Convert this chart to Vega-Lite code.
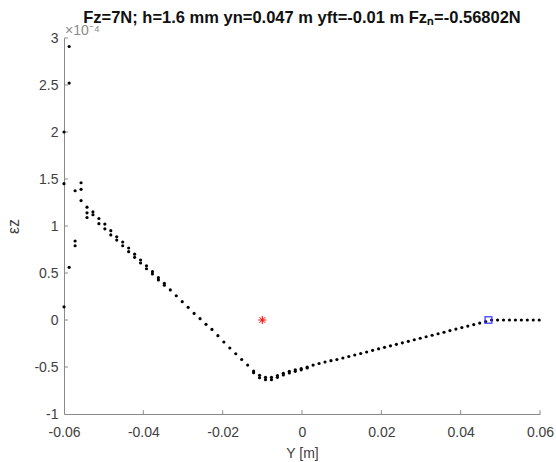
{
  "$schema": "https://vega.github.io/schema/vega-lite/v6.json",
  "width": 476,
  "height": 376,
  "autosize": {"type": "none"},
  "padding": {"left": 64, "top": 38, "right": 16, "bottom": 48},
  "background": "white",
  "config": {
    "view": {"stroke": null},
    "font": "Liberation Sans",
    "axis": {
      "domainColor": "#8a8a8a",
      "tickColor": "#8a8a8a",
      "grid": false,
      "ticks": false,
      "labelFont": "Liberation Sans",
      "labelFontSize": 14,
      "labelColor": "#404040",
      "titleFont": "Liberation Sans",
      "titleFontSize": 14,
      "titleFontWeight": "normal",
      "titleColor": "#404040",
      "domainWidth": 1
    }
  },
  "title": {
    "text": "Fz=7N; h=1.6 mm yn=0.047 m yft=-0.01 m Fzₙ=-0.56802N",
    "font": "Liberation Sans",
    "fontSize": 16.5,
    "fontWeight": "bold",
    "color": "#111111",
    "anchor": "middle",
    "baseline": "alphabetic",
    "offset": 0,
    "dy": 15
  },
  "datasets": {
    "pts": [
      {"y_m": -0.06, "eps": 2.0}, {"y_m": -0.06, "eps": 1.45}, {"y_m": -0.06, "eps": 0.14},
      {"y_m": -0.0587, "eps": 2.91}, {"y_m": -0.0587, "eps": 2.52}, {"y_m": -0.0587, "eps": 0.56},
      {"y_m": -0.0572, "eps": 1.375}, {"y_m": -0.0572, "eps": 0.84}, {"y_m": -0.0572, "eps": 0.79},
      {"y_m": -0.0557, "eps": 1.46}, {"y_m": -0.0557, "eps": 1.39}, {"y_m": -0.0557, "eps": 1.27},
      {"y_m": -0.0542, "eps": 1.2}, {"y_m": -0.0542, "eps": 1.14}, {"y_m": -0.0542, "eps": 1.09},
      {"y_m": -0.0527, "eps": 1.15}, {"y_m": -0.0527, "eps": 1.12},
      {"y_m": -0.0512, "eps": 1.08}, {"y_m": -0.0512, "eps": 1.025},
      {"y_m": -0.0497, "eps": 1.02}, {"y_m": -0.0497, "eps": 0.97},
      {"y_m": -0.0482, "eps": 0.95}, {"y_m": -0.0482, "eps": 0.905},
      {"y_m": -0.0467, "eps": 0.886}, {"y_m": -0.0467, "eps": 0.85},
      {"y_m": -0.0452, "eps": 0.83}, {"y_m": -0.0452, "eps": 0.79},
      {"y_m": -0.0437, "eps": 0.766}, {"y_m": -0.0437, "eps": 0.727},
      {"y_m": -0.0422, "eps": 0.7}, {"y_m": -0.0422, "eps": 0.667},
      {"y_m": -0.0407, "eps": 0.638}, {"y_m": -0.0407, "eps": 0.606},
      {"y_m": -0.0392, "eps": 0.577}, {"y_m": -0.0392, "eps": 0.545},
      {"y_m": -0.0377, "eps": 0.514}, {"y_m": -0.0377, "eps": 0.49},
      {"y_m": -0.0362, "eps": 0.45}, {"y_m": -0.0362, "eps": 0.426},
      {"y_m": -0.0347, "eps": 0.39}, {"y_m": -0.0347, "eps": 0.37},
      {"y_m": -0.0332, "eps": 0.32},
      {"y_m": -0.0317, "eps": 0.258},
      {"y_m": -0.0302, "eps": 0.195},
      {"y_m": -0.0287, "eps": 0.135},
      {"y_m": -0.0272, "eps": 0.07},
      {"y_m": -0.0257, "eps": 0.014},
      {"y_m": -0.0242, "eps": -0.046},
      {"y_m": -0.0227, "eps": -0.1},
      {"y_m": -0.0212, "eps": -0.167},
      {"y_m": -0.0197, "eps": -0.234},
      {"y_m": -0.0182, "eps": -0.298},
      {"y_m": -0.0167, "eps": -0.359},
      {"y_m": -0.0152, "eps": -0.42},
      {"y_m": -0.0137, "eps": -0.48},
      {"y_m": -0.0122, "eps": -0.543}, {"y_m": -0.0122, "eps": -0.56},
      {"y_m": -0.0107, "eps": -0.589}, {"y_m": -0.0107, "eps": -0.614},
      {"y_m": -0.0092, "eps": -0.61}, {"y_m": -0.0092, "eps": -0.635},
      {"y_m": -0.0077, "eps": -0.61}, {"y_m": -0.0077, "eps": -0.635},
      {"y_m": -0.0062, "eps": -0.59}, {"y_m": -0.0062, "eps": -0.61},
      {"y_m": -0.0047, "eps": -0.567}, {"y_m": -0.0047, "eps": -0.585},
      {"y_m": -0.0032, "eps": -0.546}, {"y_m": -0.0032, "eps": -0.564},
      {"y_m": -0.0017, "eps": -0.53}, {"y_m": -0.0017, "eps": -0.546},
      {"y_m": -0.0002, "eps": -0.517}, {"y_m": -0.0002, "eps": -0.53},
      {"y_m": 0.0013, "eps": -0.5}, {"y_m": 0.0013, "eps": -0.51},
      {"y_m": 0.0028, "eps": -0.48},
      {"y_m": 0.0043, "eps": -0.463},
      {"y_m": 0.0058, "eps": -0.447},
      {"y_m": 0.0073, "eps": -0.433},
      {"y_m": 0.0088, "eps": -0.42},
      {"y_m": 0.0103, "eps": -0.404},
      {"y_m": 0.0118, "eps": -0.388},
      {"y_m": 0.0133, "eps": -0.372},
      {"y_m": 0.0148, "eps": -0.356},
      {"y_m": 0.0163, "eps": -0.34},
      {"y_m": 0.0178, "eps": -0.323},
      {"y_m": 0.0193, "eps": -0.307},
      {"y_m": 0.0208, "eps": -0.291},
      {"y_m": 0.0223, "eps": -0.275},
      {"y_m": 0.0238, "eps": -0.259},
      {"y_m": 0.0253, "eps": -0.243},
      {"y_m": 0.0268, "eps": -0.227},
      {"y_m": 0.0283, "eps": -0.21},
      {"y_m": 0.0298, "eps": -0.194},
      {"y_m": 0.0313, "eps": -0.178},
      {"y_m": 0.0328, "eps": -0.162},
      {"y_m": 0.0343, "eps": -0.146},
      {"y_m": 0.0358, "eps": -0.13},
      {"y_m": 0.0373, "eps": -0.113},
      {"y_m": 0.0388, "eps": -0.097},
      {"y_m": 0.0403, "eps": -0.081},
      {"y_m": 0.0418, "eps": -0.065},
      {"y_m": 0.0433, "eps": -0.049},
      {"y_m": 0.0448, "eps": -0.033},
      {"y_m": 0.0463, "eps": -0.017},
      {"y_m": 0.0478, "eps": 0},
      {"y_m": 0.0493, "eps": 0},
      {"y_m": 0.0508, "eps": 0},
      {"y_m": 0.0523, "eps": 0},
      {"y_m": 0.0538, "eps": 0},
      {"y_m": 0.0553, "eps": 0},
      {"y_m": 0.0568, "eps": 0},
      {"y_m": 0.0583, "eps": 0},
      {"y_m": 0.0598, "eps": 0}
    ],
    "star": [{"y_m": -0.01, "eps": 0}],
    "blue": [{"y_m": 0.047, "eps": 0}],
    "exp": [{"y_m": -0.06, "eps": 3, "label": "×10⁻⁴"}],
    "xticks": [
      {"y_m": -0.04, "eps": -1, "eps2": -0.96},
      {"y_m": -0.02, "eps": -1, "eps2": -0.96},
      {"y_m": 0, "eps": -1, "eps2": -0.96},
      {"y_m": 0.02, "eps": -1, "eps2": -0.96},
      {"y_m": 0.04, "eps": -1, "eps2": -0.96},
      {"y_m": 0.06, "eps": -1, "eps2": -0.96}
    ],
    "yticks": [
      {"y_m": -0.06, "y_m2": -0.059, "eps": -0.5},
      {"y_m": -0.06, "y_m2": -0.059, "eps": 0},
      {"y_m": -0.06, "y_m2": -0.059, "eps": 0.5},
      {"y_m": -0.06, "y_m2": -0.059, "eps": 1},
      {"y_m": -0.06, "y_m2": -0.059, "eps": 1.5},
      {"y_m": -0.06, "y_m2": -0.059, "eps": 2},
      {"y_m": -0.06, "y_m2": -0.059, "eps": 2.5},
      {"y_m": -0.06, "y_m2": -0.059, "eps": 3}
    ]
  },
  "encoding": {
    "x": {
      "field": "y_m", "type": "quantitative",
      "scale": {"domain": [-0.06, 0.06], "nice": false, "zero": false},
      "axis": {
        "title": "Y [m]",
        "values": [-0.06, -0.04, -0.02, 0, 0.02, 0.04, 0.06],
        "labelExpr": "replace(format(datum.value, '~g'), '−', '-')",
        "labelPadding": 11,
        "titlePadding": 7,
        "labelFlush": false
      }
    },
    "y": {
      "field": "eps", "type": "quantitative",
      "scale": {"domain": [-1, 3], "nice": false, "zero": false},
      "axis": {
        "title": "εz",
        "titleFontSize": 16,
        "values": [-1, -0.5, 0, 0.5, 1, 1.5, 2, 2.5, 3],
        "labelExpr": "replace(format(datum.value, '~g'), '−', '-')",
        "labelPadding": 6,
        "titlePadding": 12
      }
    }
  },
  "layer": [
    {
      "data": {"name": "xticks"},
      "mark": {"type": "rule", "color": "#8a8a8a", "strokeWidth": 1},
      "encoding": {"y2": {"field": "eps2"}}
    },
    {
      "data": {"name": "yticks"},
      "mark": {"type": "rule", "color": "#8a8a8a", "strokeWidth": 1},
      "encoding": {"x2": {"field": "y_m2"}}
    },
    {
      "data": {"name": "pts"},
      "mark": {"type": "point", "filled": true, "shape": "circle", "size": 10, "color": "black", "opacity": 1}
    },
    {
      "data": {"name": "star"},
      "mark": {"type": "point", "filled": false, "shape": "M-1,0H1M0,-1V1M-0.7,-0.7L0.7,0.7M-0.7,0.7L0.7,-0.7", "size": 64, "color": "#ff0000", "strokeWidth": 1, "opacity": 1}
    },
    {
      "data": {"name": "blue"},
      "mark": {"type": "point", "filled": false, "shape": "square", "size": 45, "color": "#3030ff", "strokeWidth": 1.5, "opacity": 0.8}
    },
    {
      "data": {"name": "exp"},
      "mark": {"type": "text", "align": "left", "baseline": "alphabetic", "dx": 1, "dy": -3, "fontSize": 14, "color": "#8a8a8a", "font": "Liberation Sans"},
      "encoding": {"text": {"field": "label"}}
    }
  ]
}
